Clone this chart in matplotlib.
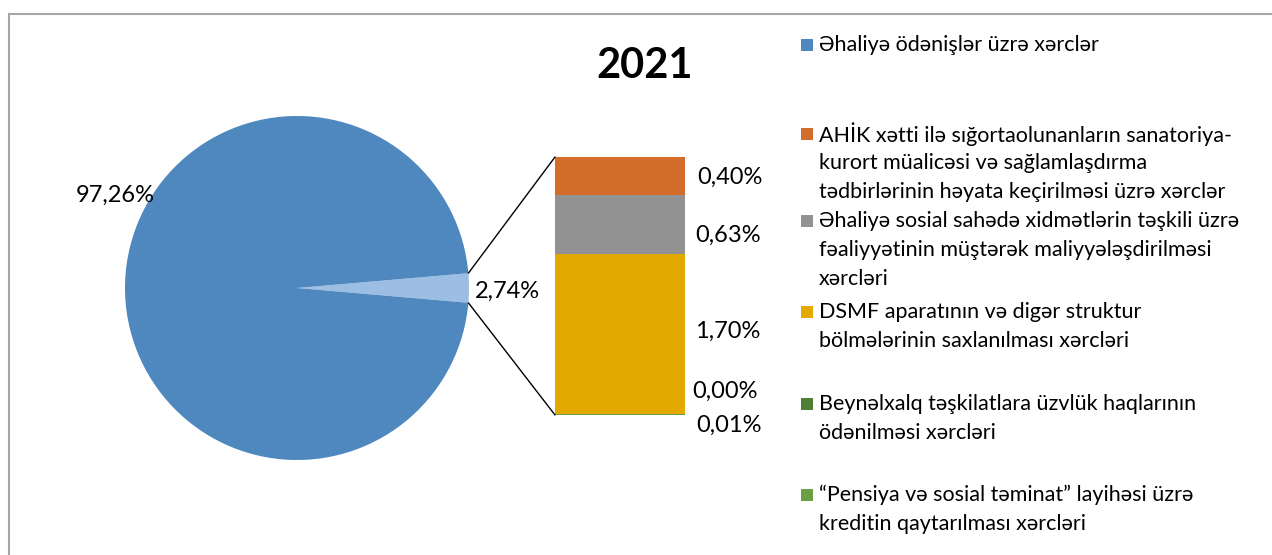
import matplotlib.pyplot as plt
from matplotlib.patches import ConnectionPatch, Rectangle
from matplotlib.lines import Line2D
import numpy as np

plt.rcParams['font.family'] = ['Lato', 'DejaVu Sans']

# data
pie_labels = ["Əhaliyə ödənişlər üzrə xərclər", "Digər"]
pie_values = [97.26, 2.74]

bar_labels = [
    "AHİK xətti ilə sığortaolunanların sanatoriya-\nkurort müalicəsi və sağlamlaşdırma\ntədbirlərinin həyata keçirilməsi üzrə xərclər",
    "Əhaliyə sosial sahədə xidmətlərin təşkili üzrə\nfəaliyyətinin müştərək maliyyələşdirilməsi\nxərcləri",
    "DSMF aparatının və digər struktur\nbölmələrinin saxlanılması xərcləri",
    "Beynəlxalq təşkilatlara üzvlük haqlarının\nödənilməsi xərcləri",
    "“Pensiya və sosial təminat” layihəsi üzrə\nkreditin qaytarılması xərcləri",
]
bar_values = [0.40, 0.63, 1.70, 0.00, 0.01]
title = "2021"

pie_colors = ["#4F88BE", "#9CBEE3"]
bar_colors = ["#D26D2B", "#929292", "#E2AA00", "#4F7F35", "#6A9F44"]

W, H = 1272, 555
fig = plt.figure(figsize=(W / 100, H / 100), dpi=100)

def px_axes(x0, y0, w, h):
    return fig.add_axes([x0 / W, 1 - (y0 + h) / H, w / W, h / H])

# frame (chart area border, cropped on the right and bottom)
fig.add_artist(Line2D([9 / W, 1], [1 - 14 / H, 1 - 14 / H], color="#A6A6A6", lw=1.5))
fig.add_artist(Line2D([9 / W, 9 / W], [0, 1 - 14 / H], color="#A6A6A6", lw=1.5))

# pie
cx, cy, r = 297, 288, 172
ax_pie = px_axes(cx - r, cy - r, 2 * r, 2 * r)
half = pie_values[1] / 100 * 360 / 2
ax_pie.pie(pie_values[::-1], colors=pie_colors[::-1], startangle=-half,
           radius=1, wedgeprops=dict(linewidth=0))
ax_pie.set_xlim(-1, 1)
ax_pie.set_ylim(-1, 1)
ax_pie.axis("off")

def pct(v):
    return f"{v:.2f}%".replace(".", ",")

fig.text(115 / W, 1 - 195 / H, pct(pie_values[0]), ha="center", va="center", fontsize=17)
fig.text(507 / W, 1 - 291 / H, pct(pie_values[1]), ha="center", va="center", fontsize=17)

# bar of pie
total = sum(bar_values)
ax_bar = px_axes(555, 157, 130, 258)
order = bar_values[::-1]
ocolors = bar_colors[::-1]
bottom = 0
for v, c in zip(order, ocolors):
    ax_bar.bar(0, v, bottom=bottom, width=1, color=c, linewidth=0)
    bottom += v
ax_bar.set_xlim(-0.5, 0.5)
ax_bar.set_ylim(0, total)
ax_bar.axis("off")

# label positions (pixel) for bar values, bottom to top
label_y = [425, 391, 331, 235, 177]
label_x = [729, 725, 728, 728, 730]
for v, ly, lx in zip(order, label_y, label_x):
    fig.text(lx / W, 1 - ly / H, pct(v), ha="center", va="center", fontsize=17)

# connector lines
a = np.deg2rad(half)
for sy, by in [(np.sin(a), total), (-np.sin(a), 0)]:
    con = ConnectionPatch(xyA=(np.cos(a), sy), coordsA=ax_pie.transData,
                          xyB=(-0.5, by), coordsB=ax_bar.transData,
                          color="black", lw=1)
    fig.add_artist(con)

# title
fig.text(645 / W, 1 - 66 / H, title, ha="center", va="center", fontsize=30, fontweight="bold")

# legend
legend_texts = [pie_labels[0]] + bar_labels
legend_colors = [pie_colors[0]] + bar_colors
legend_y = [45, 134, 221, 312, 404, 495]
for txt, c, y0 in zip(legend_texts, legend_colors, legend_y):
    fig.add_artist(Rectangle((801 / W, 1 - (y0 + 6) / H), 12 / W, 12 / H,
                             transform=fig.transFigure, color=c, lw=0))
    for i, line in enumerate(txt.split("\n")):
        fig.text(819 / W, 1 - (y0 + 29 * i) / H, line, ha="left", va="center", fontsize=15.5)

fig.savefig("out.png", dpi=100)
